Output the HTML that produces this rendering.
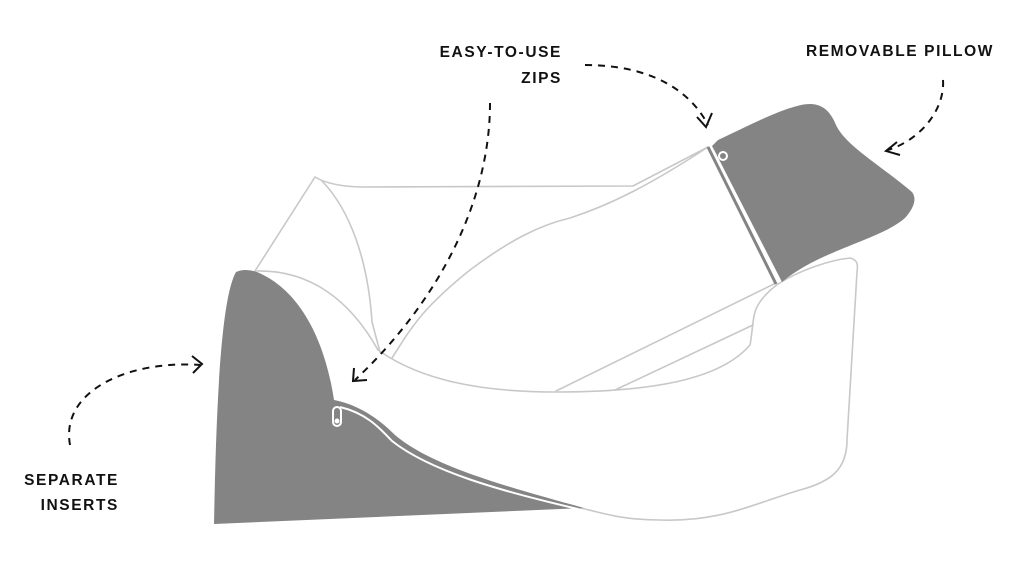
<!DOCTYPE html>
<html><head><meta charset="utf-8"><style>
html,body{margin:0;padding:0;background:#fff;width:1024px;height:562px;overflow:hidden}
svg{display:block}
text{font-family:"Liberation Sans",sans-serif;font-weight:bold;font-size:15.5px;letter-spacing:1.6px;fill:#111}
</style></head><body>
<svg width="1024" height="562" viewBox="0 0 1024 562" xmlns="http://www.w3.org/2000/svg">
<g fill="none" stroke="#c8c8c8" stroke-width="1.6" stroke-linejoin="round" stroke-linecap="round">
<path d="M255,271 L315,177 Q330,186 360,187 L633,186 L708,147"/>
<path d="M322,181 C350,210 368,260 372,322 L380,352"/>
<path d="M257,271 C310,270 350,300 378,350"/>
<path d="M378,350 C420,380 480,392 556,392 C650,392 720,380 750,345 C753,330 752,315 758,305 C762,298 770,290 778,284"/>
<path d="M556,391 L776,283"/>
<path d="M615,390 L753,325"/>
<path d="M392,358 C410,330 420,310 470,270 C510,240 540,225 570,218 C610,205 650,185 708,147"/>
<path d="M778,284 C800,270 830,260 850,258 C858,260 858,265 857,272 L847,440 C847,470 830,482 800,490 C750,505 720,522 660,520 C620,520 600,512 580,508"/>
</g>
<path fill="#848484" d="M214,524 C216,420 220,300 236,272 Q245,268 257,272 C300,290 325,340 334,400 C360,405 380,420 395,435 C430,465 500,485 584,508 L214,524 Z"/>
<path fill="none" stroke="#fff" stroke-width="2" d="M340,407 C365,413 378,426 392,441 C430,471 500,491 578,509"/>
<g fill="none" stroke="#fff" stroke-width="2"><rect x="333" y="407" width="8" height="19" rx="4"/></g>
<circle cx="337" cy="421" r="2.5" fill="#fff"/>
<path fill="#848484" d="M712,146 L718,140 C750,125 790,104 810,104 C825,104 832,115 836,125 C845,145 880,165 912,192 C918,200 912,210 905,218 C880,240 820,250 782,282 Z"/>
<path stroke="#848484" stroke-width="3" d="M708,147 L776,284"/>
<path stroke="#fff" stroke-width="2" d="M713,150 L780,282"/>
<circle cx="723" cy="156" r="4" fill="none" stroke="#fff" stroke-width="2"/>
<g fill="none" stroke="#111" stroke-width="2" stroke-dasharray="7,6">
<path d="M585,65 C650,65 690,90 708,125"/>
<path d="M943,80 C945,110 920,140 888,150"/>
<path d="M490,103 C490,200 440,300 355,380"/>
<path d="M70,445 C60,390 130,360 200,365"/>
</g>
<g fill="none" stroke="#111" stroke-width="2">
<path d="M697,117 L706,127 L712,113"/>
<path d="M897,142 L886,151 L900,155"/>
<path d="M354,368 L353,381 L367,380"/>
<path d="M192,356 L202,364 L193,373"/>
</g>
<text x="562" y="57" text-anchor="end">EASY-TO-USE</text>
<text x="562" y="83" text-anchor="end">ZIPS</text>
<text x="994" y="56" text-anchor="end">REMOVABLE PILLOW</text>
<text x="119" y="485" text-anchor="end">SEPARATE</text>
<text x="119" y="510" text-anchor="end">INSERTS</text>
</svg>
</body></html>
